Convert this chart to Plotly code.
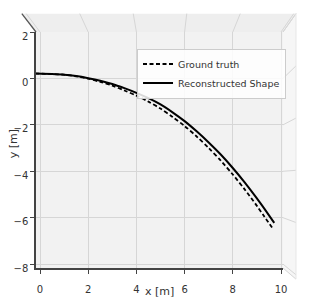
import plotly.graph_objects as go

# ---- data ----
x_recon = [-0.2, 0.5, 1.0, 1.5, 2.0, 2.5, 3.0, 3.5, 4.0, 4.5, 5.0, 5.5, 6.0, 6.5, 7.0, 7.5, 8.0, 8.5, 9.0, 9.3, 9.72]
y_recon = [0.21, 0.19, 0.16, 0.10, 0.01, -0.10, -0.24, -0.42, -0.62, -0.85, -1.12, -1.46, -1.84, -2.28, -2.76, -3.28, -3.86, -4.49, -5.17, -5.60, -6.22]
x_truth = [-0.2, 0.5, 1.0, 1.5, 2.0, 2.5, 3.0, 3.5, 4.0, 4.5, 5.0, 5.5, 6.0, 6.5, 7.0, 7.5, 8.0, 8.5, 9.0, 9.3, 9.63]
y_truth = [0.21, 0.19, 0.16, 0.09, -0.01, -0.15, -0.31, -0.52, -0.74, -1.00, -1.30, -1.66, -2.05, -2.50, -3.00, -3.54, -4.14, -4.79, -5.49, -5.94, -6.42]
x_ticks = [0, 2, 4, 6, 8, 10]
y_ticks = [2, 0, -2, -4, -6, -8]
y_tick_text = ["2", "0", "\u22122", "\u22124", "\u22126", "\u22128"]

# axis limits
X0, X1 = -0.166, 10.083
Y0, Y1 = -8.167, 2.0

# simple perspective for the side panes (floor -> top edge of box)
CX, SX = 5.19, 1.11
CY, SY = -4.33, 1.125


def outer(x, y):
    return CX + SX * (x - CX), CY + SY * (y - CY)


def paper(x, y):
    return (x - X0) / (X1 - X0), (y - Y0) / (Y1 - Y0)


def poly(points):
    pts = [paper(*p) for p in points]
    return "M " + " L ".join(f"{a:.5f},{b:.5f}" for a, b in pts) + " Z"


def seg(p, q, color, width, layer="below"):
    a = paper(*p)
    b = paper(*q)
    return dict(type="line", xref="paper", yref="paper", x0=a[0], y0=a[1], x1=b[0], y1=b[1],
                line=dict(color=color, width=width), layer=layer)


shapes = []
# top wall
shapes.append(dict(type="path", xref="paper", yref="paper", layer="below",
                   path=poly([(X0, Y1), (X1, Y1), outer(X1, Y1), outer(X0, Y1)]),
                   fillcolor="#eeeeee", line=dict(width=0)))
# right wall
shapes.append(dict(type="path", xref="paper", yref="paper", layer="below",
                   path=poly([(X1, Y1), (X1, Y0), outer(X1, Y0), outer(X1, Y1)]),
                   fillcolor="#f6f6f6", line=dict(width=0)))
grid_c = "#d6d6d6"
for xv in x_ticks:
    shapes.append(seg((xv, Y1), outer(xv, Y1), grid_c, 1))
for yv in y_ticks:
    shapes.append(seg((X1, yv), outer(X1, yv), grid_c, 1))
shapes.append(seg((X1, Y1), outer(X1, Y1), grid_c, 1))
shapes.append(seg((X1, Y0), outer(X1, Y0), grid_c, 1))
shapes.append(seg(outer(X1, Y1), outer(X1, Y0), "#e6e6e6", 1))
shapes.append(seg((X0, Y1), outer(X0, Y1), "#555555", 1.3))

fig = go.Figure()
fig.add_trace(go.Scatter(x=x_truth, y=y_truth, mode="lines", name="Ground truth",
                         line=dict(color="black", width=1.8, dash="4px,2.5px", shape="spline", smoothing=0.8)))
fig.add_trace(go.Scatter(x=x_recon, y=y_recon, mode="lines", name="Reconstructed Shape",
                         line=dict(color="black", width=2, shape="spline", smoothing=0.8)))

fig.update_layout(
    width=311, height=307,
    margin=dict(l=36, r=28, t=32, b=31),
    paper_bgcolor="white",
    plot_bgcolor="#f2f2f2",
    font=dict(family="DejaVu Sans", size=10, color="#333333"),
    shapes=shapes,
    showlegend=True,
    legend=dict(x=0.409, y=0.93, xanchor="left", yanchor="top",
                bgcolor="rgba(255,255,255,0.85)", bordercolor="#cccccc", borderwidth=1,
                font=dict(size=9.5, color="#333333"), itemwidth=30, tracegroupgap=0),
    annotations=[
        dict(text="x [m]", xref="paper", yref="paper", x=0.5, y=(276 - 300) / 244,
             showarrow=False, font=dict(size=11, color="#333333"), xanchor="center", yanchor="middle"),
        dict(text="y [m]", xref="paper", yref="paper", x=(13 - 36) / 247, y=(276 - 148) / 244,
             showarrow=False, textangle=-90, font=dict(size=11, color="#333333"),
             xanchor="center", yanchor="middle"),
    ],
)
fig.update_xaxes(range=[X0, X1], tickvals=x_ticks, ticktext=[str(v) for v in x_ticks],
                 showgrid=True, gridcolor=grid_c, gridwidth=1, zeroline=False,
                 showline=True, linecolor="#444444", linewidth=1.5, mirror=False,
                 ticks="outside", ticklen=4, tickcolor="#444444", ticklabelstandoff=7)
fig.update_yaxes(range=[Y0, Y1], tickvals=y_ticks, ticktext=y_tick_text,
                 showgrid=True, gridcolor=grid_c, gridwidth=1, zeroline=False,
                 showline=True, linecolor="#444444", linewidth=1.5, mirror=False,
                 ticks="outside", ticklen=4, tickcolor="#444444", ticklabelshift=4)

fig.write_html("out.html")
